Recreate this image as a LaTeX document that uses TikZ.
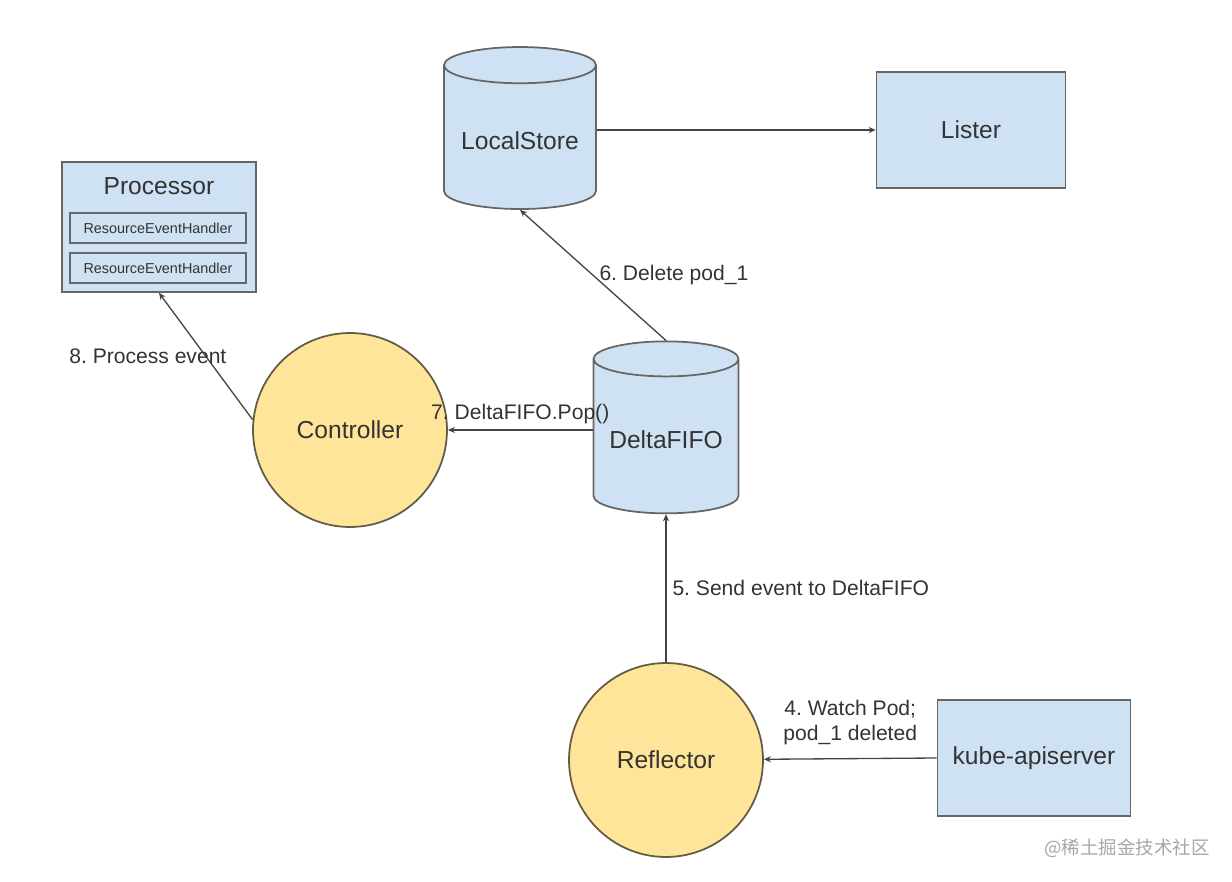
\documentclass[tikz,border=0pt]{standalone}
\usepackage{fontspec}
\setmainfont{Liberation Sans}
\newfontfamily\cjkfont{Noto Sans CJK SC}
\usetikzlibrary{shapes.geometric,arrows.meta,positioning}
\definecolor{boxblue}{HTML}{CFE2F3}
\definecolor{circyellow}{HTML}{FFE599}
\definecolor{edgegray}{HTML}{666666}
\definecolor{circedge}{HTML}{625C45}
\definecolor{linegray}{HTML}{444444}
\definecolor{textgray}{HTML}{333333}
\frenchspacing

\tikzset{
	box/.style={rectangle, draw=edgegray, line width=1pt, fill=boxblue, text=textgray, font=\fontsize{14}{17}\selectfont},
	store/.style={cylinder, shape border rotate=90, aspect=0.28, draw=edgegray, line width=1pt, fill=boxblue, text=textgray, font=\fontsize{14}{17}\selectfont},
	actor/.style={circle, draw=circedge, line width=1pt, fill=circyellow, minimum size=3.88cm, text=textgray, font=\fontsize{14}{17}\selectfont},
	flow/.style={-{Stealth[length=4pt, width=3.5pt]}, line width=0.75pt, draw=linegray},
	lbl/.style={text=textgray, font=\fontsize{12}{14.5}\selectfont}
}

\begin{document}
\begin{tikzpicture}[x=0.02cm, y=-0.02cm]
	\useasboundingbox (0,0) rectangle (1232,882);
	\node[box, minimum width=3.88cm, minimum height=2.6cm] (proc) at (159,227) {};
	\node[text=textgray, font=\fontsize{14}{17}\selectfont] (ptitle) at (159,186) {Processor};
	\node[box, minimum width=3.52cm, minimum height=0.6cm, font=\fontsize{8.2}{10}\selectfont] (handlera) at (158,228) {ResourceEventHandler};
	\node[box, minimum width=3.52cm, minimum height=0.6cm, font=\fontsize{8.2}{10}\selectfont] (handlerb) at (158,268) {ResourceEventHandler};
	\node[store, minimum width=3.04cm, minimum height=3.24cm] (lstore) at (520,141) {LocalStore};
	\node[box, minimum width=3.78cm, minimum height=2.32cm] (lister) at (971,130) {Lister};
	\node[store, minimum width=2.9cm, minimum height=3.44cm] (dfifo) at (666,440) {DeltaFIFO};
	\node[actor] (ctrl) at (350,430) {Controller};
	\node[actor] (refl) at (666,760) {Reflector};
	\node[box, minimum width=3.86cm, minimum height=2.32cm] (kube) at (1034,758) {kube-apiserver};
	\node[text=gray!70, font=\cjkfont\fontsize{10.5}{12}\selectfont] (mark) at (1127,848) {@稀土掘金技术社区};

	\draw[flow] (lstore.east |- lister.west) -- (lister.west);
	\draw[flow] (dfifo.north) -- node[lbl, right] {6. Delete pod\_1} (lstore.south);
	\draw[flow] (dfifo.west |- ctrl) -- node[lbl, above] {7. DeltaFIFO.Pop()} (ctrl);
	\draw[flow] (ctrl.174) -- node[lbl, midway, xshift=-1.16cm] {8. Process event} (proc.south);
	\draw[flow] (refl.north) -- node[lbl, right] {5. Send event to DeltaFIFO} (dfifo.south);
	\draw[flow] (kube.west) -- node[lbl, above, align=center, yshift=4pt] {4. Watch Pod;\\pod\_1 deleted} (refl);
\end{tikzpicture}
\end{document}
